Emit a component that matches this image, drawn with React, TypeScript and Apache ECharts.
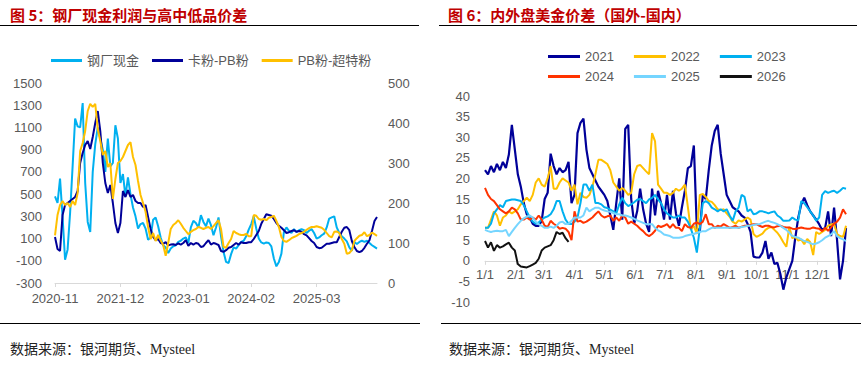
import React, { useEffect, useRef } from "react";
import * as echarts from "echarts";

// ---------- Left chart (图5) : half-month points from 2020-11 to 2026-03 ----------
const leftStart = { year: 2020, month: 11 };
const leftPointCount = 129;
const leftTickEvery = 26; // every 13 months

// 钢厂现金 (left axis)
const profit = [
  480, 420, 640, 300, -90, 0, 330, 750, 1180, 1110,
  1100, 1320, 600, 250, 160, 700, 950, 1100, 1000, 900,
  700, 1000, 750, 780, 1120, 1000, 600, 680, 480, 650,
  500, 380, 300, 190, 230, 240, 190, 90, 110, 270,
  290, 210, 110, 40, 20, -30, 10, 30, 40, 70,
  80, 100, 110, 60, 200, 260, 240, 200, 310, 250,
  210, 280, 220, 130, 200, 290, 120, -20, -110, -120,
  -40, 20, 10, 40, 70, 80, 120, 180, 230, 300,
  190, 100, 65, 55, 65, 60, 30, -80, -150, -110,
  -36, 160, 200, 170, 150, 185, 160, 175, 185, 175,
  150, 170, 185, 150, 100, 110, 130, 145, 200, 280,
  290, 300, 200, 150, 120, 100, 75, 20, -10, 70,
  50, 70, 80, 70, 80, 60, 40, 25, 10,
];

// 卡粉-PB粉 (right axis)
const kaPb = [
  115, 85, 80, 170, 195, 200, 205, 210, 215, 230,
  300, 325, 345, 355, 335, 365, 400, 430, 380, 300,
  250, 225, 245, 200, 150, 125, 150, 230, 215, 232,
  215, 220, 205, 200, 200, 190, 195, 165, 135, 115,
  107, 110, 100, 98, 102, 94, 96, 97, 95, 99,
  96, 100, 107, 93, 100, 96, 100, 98, 90, 92,
  100, 107, 96, 100, 98, 95, 80, 78, 82, 88,
  90, 95, 100, 96, 102, 100, 100, 102, 102, 110,
  120, 130, 148, 160, 172, 170, 168, 160, 150, 143,
  138, 132, 125, 127, 130, 132, 128, 130, 128, 122,
  119, 112, 105, 100, 90, 87, 88, 93, 98, 98,
  100, 102, 102, 115, 128, 138, 140, 132, 105, 90,
  80, 77, 80, 88, 98, 107, 130, 155, 165,
];

// PB粉-超特粉 (right axis)
const pbSuper = [
  119, 170, 195, 205, 195, 200, 190, 205, 195, 225,
  330, 350, 380, 430, 448, 440, 448, 385, 355, 320,
  330, 290, 300, 210, 260, 300, 305, 315, 330, 345,
  352, 315, 295, 255, 220, 200, 178, 140, 110, 125,
  105, 120, 107, 95, 68, 100, 135, 145, 150, 157,
  148, 138, 130, 122, 128, 132, 135, 140, 138, 135,
  138, 140, 135, 142, 150, 157, 135, 90, 88, 100,
  110, 130, 125, 122, 120, 120, 123, 117, 117, 170,
  168, 160, 158, 160, 157, 163, 165, 168, 155, 140,
  115, 105, 103, 107, 112, 115, 118, 122, 125, 128,
  133, 137, 140, 140, 142, 140, 138, 133, 125, 117,
  114, 128, 129, 125, 110, 98, 73, 75, 82, 105,
  112, 118, 120, 127, 117, 120, 126, 122, 118,
];

const leftLeftTicks = [-300, -100, 100, 300, 500, 700, 900, 1100, 1300, 1500];

// ---------- Right chart (图6) : every 3rd day of the year ----------
const monthLengths = [31, 28, 31, 30, 31, 30, 31, 31, 30, 31, 30, 31];
const dayStep = 3;

const y2021 = [
  22, 21, 23, 21.5, 23.5, 22, 24, 22.5, 25.8, 33,
  27, 21, 18, 14, 11.3, 10.5, 9, 8.5, 8.5, 9.7,
  15, 16.5, 26, 23, 21, 22.5, 21.5, 22, 24, 14,
  16, 31, 33.5, 34.5, 27, 22.5, 21, 19.5, 18, 17,
  16, 14.5, 11, 7.5, 14, 20, 10, 32, 33, 15,
  9, 12, 17.5, 12.5, 9, 7, 17.5, 11, 17, 14,
  10, 16, 10, 17, 11.5, 8.5, 13, 17, 22.5, 23,
  28, 8, 7, 16, 15, 22, 28, 31.5, 33, 26,
  21, 16, 14.5, 13, 12.5, 12, 11, 10.5, 9, 7,
  1, 0.8, 0.8, 2, 4.8, 0.5, 2, -0.8, -0.5, -3.2,
  -7, -4, -2, 0, 5.6, 10.5, 13.7, 15.3, 13.5, 12,
  11, 10, 8.9, 7.5, 8, 12, 6, 12.9, 5, -4.5,
  0, 8,
];

const y2022 = [
  8, 8, 10, 12, 11, 8.5, 10.5, 11, 12, 11.5,
  12, 12.5, 13.7, 14.5, 15.3, 14.5, 16, 19, 20, 18.5,
  18, 20, 23, 17.5, 17.5, 19, 20, 19.5, 19, 17,
  18.5, 13.7, 16.5, 15.5, 15.3, 16, 18, 21, 24.5, 24.5,
  24, 23.5, 22, 19, 18, 17, 17.7, 17, 16, 16.5,
  21, 23, 23.3, 22.5, 21.7, 21, 31, 29, 18.5, 17.5,
  16.5, 16.5, 16, 16.5, 17.5, 17, 17.5, 18.5, 13, 7.5,
  8.5, 6.5, 16, 16.2, 15.5, 14.5, 14.3, 13.5, 12.5, 12.3,
  12.5, 11.5, 10.7, 9.5, 9, 9.8, 9.5, 10, 10.5, 10,
  6.5, 5.8, 6.2, 6.6, 7.5, 8, 8.2, 7.5, 6.8, 5.8,
  4.5, 3.4, 8.2, 5.5, 5.8, 4.9, 5.2, 4, 5.3, 4.5,
  1.4, 7, 6.5, 7, 7.5, 8.5, 8.8, 9, 6.5, 6,
  5.8, 8.5,
];

const y2023 = [
  8, 8, 9, 11.5, 12.5, 13.5, 13, 14.5, 14.7, 14.9,
  14.9, 14.7, 14.5, 13.5, 12, 10.5, 9.5, 9, 9.3, 10,
  10.5, 10.8, 11.3, 12.5, 14.5, 14.5, 12, 10, 9, 8.9,
  9.5, 10.5, 14, 18.5, 18.5, 17, 18.5, 14, 14, 13.7,
  13, 12.8, 12.4, 12, 11.5, 13.7, 15.3, 14, 13.3, 13.7,
  14.2, 14.8, 15, 14.5, 14, 14.9, 15.3, 16, 14.9, 14,
  12.5, 11.5, 11, 10.5, 10.5, 11, 10.5, 10.5, 9.5, 7.8,
  5.6, 2, 8, 14, 14.5, 14, 12.9, 12.5, 12, 12.5,
  12, 12.5, 11, 9.7, 12, 12.9, 16, 15.5, 12, 12.5,
  11.3, 11.5, 12, 12, 11.8, 11.5, 11.8, 12, 11, 10.5,
  9.7, 9.7, 9.8, 10.5, 10, 9.8, 14.5, 14, 13, 12,
  11, 9.7, 10.5, 16, 16.9, 16.5, 16.8, 17, 16.5, 17,
  17.7, 17.5,
];

const y2024 = [
  17.7, 16, 15, 14.5, 13.5, 12.5, 12, 11.5, 12, 12.9,
  12.5, 11.5, 10, 10, 10.5, 10, 10.5, 10, 11, 10,
  8.5, 8.2, 9.7, 9, 8.5, 7.8, 8, 7.8, 7, 5,
  12, 9.5, 9.7, 9.2, 9.5, 10, 10.5, 11.3, 12, 11,
  10.5, 10.8, 11, 9.7, 10.5, 9.7, 11, 10.5, 9, 9.5,
  9, 8.5, 7.8, 7.2, 6.4, 6, 6.5, 7.3, 8.5, 8.2,
  8.5, 8.9, 8, 8.9, 8, 8, 7.2, 8.9, 8.2, 8,
  9, 9.3, 8.9, 9.5, 11.3, 8.9, 8.9, 8, 8.5, 8.3,
  8.9, 8.5, 8, 8.2, 8.5, 8, 8.3, 8.5, 8.5, 8.7,
  8.9, 8.9, 8.5, 8.2, 8.5, 8.5, 8.2, 8.1, 8.4, 8.5,
  8.2, 8.1, 8.1, 7.8, 7.7, 7.9, 8.1, 7.9, 7.8, 7.8,
  8.1, 7.9, 7.8, 7.2, 8, 7.3, 8.1, 9, 9.5, 10.5,
  12.5, 11.3,
];

const y2025 = [
  7.5, 7.2, 7, 7.2, 7.3, 7.2, 7.2, 7.5, 6, 7,
  8, 8.9, 9.7, 10.3, 10.7, 11, 10.5, 9.5, 8.9, 8.5,
  8, 8, 8.3, 8, 8.5, 9.3, 9.5, 8.9, 9, 9.7,
  10.5, 10.5, 10.5, 11, 12.9, 12, 12.5, 12.9, 12.9, 12.5,
  12.2, 12, 11.9, 11.6, 11.3, 11.3, 11, 11, 10.8, 10.5,
  10.2, 9.8, 9.5, 9.2, 8.9, 8.9, 8.9, 8, 7.4, 7,
  6.4, 6.2, 6, 5.6, 5.6, 5.6, 5.7, 6, 6.2, 6.4,
  6.5, 6.8, 7, 7.2, 7.2, 7.6, 8, 8, 8, 8,
  8, 8, 8, 8, 8, 8, 8.2, 8.3, 8.5, 8.5,
  8.7, 8.9, 8.9, 9.2, 9.5, 9.7, 9.4, 9.2, 8.9, 8.5,
  8, 7.5, 6.8, 6, 5.8, 5.6, 5.2, 4.8, 4.6, 4.3,
  4, 4.2, 4.5, 5, 5.6, 6, 6.4, 7.2, 6, 5.5,
  5.2, 4.8,
];

const y2026 = [
  4.8, 3.2, 4.5, 2.4, 3.8, 3.2, 3.5, 4, 4.4, 3.2,
  2.5, -0.8, -1.4, -1.5, -1.6, -1.3, -0.9, -0.5, 0.5, 2.5,
  3.2, 3.5, 3.8, 5, 7, 6.5, 6.8, 5.5, 4.6,
];

const rightTicks = { min: -10, max: 40, interval: 5 };

// ---------- styles / layout ----------
const FONT = '"Liberation Sans", Arial, "Noto Sans CJK SC", sans-serif';
const LABEL_COLOR = "#595959";
const AXIS_COLOR = "#D9D9D9";
const C_PROFIT = "#00B0F0";
const C_KA = "#000099";
const C_PB = "#FFC000";
const yearColors: Record<string, string> = {
  "2021": "#000099",
  "2022": "#FFC000",
  "2023": "#00B0F0",
  "2024": "#FF3300",
  "2025": "#75D5FF",
  "2026": "#111111",
};
const RIGHT_GRID = { left: 485, right: 14, top: 96, bottom: 63 };
const CHART_H = 365;

function buildLeftCategories(): string[] {
  const cats: string[] = [];
  let y = leftStart.year;
  let m = leftStart.month;
  while (cats.length < leftPointCount) {
    const mm = String(m).padStart(2, "0");
    cats.push(`${y}-${mm}`);
    if (cats.length < leftPointCount) cats.push(`${y}-${mm}-16`);
    m += 1;
    if (m > 12) {
      m = 1;
      y += 1;
    }
  }
  return cats;
}

function buildDayCategories(): string[] {
  const cats: string[] = [];
  monthLengths.forEach((len, mi) => {
    for (let d = 1; d <= len; d++) cats.push(`${mi + 1}/${d}`);
  });
  return cats;
}

export default function App() {
  const ref = useRef<HTMLDivElement>(null);

  useEffect(() => {
    if (!ref.current) return;
    const chart = echarts.init(ref.current, undefined, { renderer: "svg" });
    const leftCats = buildLeftCategories();
    const dayCats = buildDayCategories();

    const yearSeries: [string, number[]][] = [
      ["2021", y2021],
      ["2022", y2022],
      ["2023", y2023],
      ["2024", y2024],
      ["2025", y2025],
      ["2026", y2026],
    ];

    // x axis of the right chart sits at value 0 of its y axis
    const rightGridH = CHART_H - RIGHT_GRID.top - RIGHT_GRID.bottom;
    const zeroOffset =
      -rightGridH * (0 - rightTicks.min) / (rightTicks.max - rightTicks.min);

    const legendCommon = {
      icon: "rect",
      itemHeight: 3,
      padding: 0,
      textStyle: { fontSize: 13, color: LABEL_COLOR, fontFamily: FONT },
    };

    const option: any = {
      animation: false,
      backgroundColor: "#ffffff",
      textStyle: { fontFamily: FONT },
      graphic: [
        {
          type: "text",
          x: 10,
          y: 14,
          style: {
            text: "图 5：钢厂现金利润与高中低品价差",
            fill: "#C00000",
            font: 'bold 15px "Noto Sans CJK SC", sans-serif',
            verticalAlign: "middle",
          },
        },
        {
          type: "text",
          x: 448,
          y: 14,
          style: {
            text: "图 6：内外盘美金价差（国外-国内）",
            fill: "#C00000",
            font: 'bold 15px "Noto Sans CJK SC", sans-serif',
            verticalAlign: "middle",
          },
        },
        { type: "line", shape: { x1: 0, y1: 25.5, x2: 419, y2: 25.5 }, style: { stroke: "#000", lineWidth: 1 } },
        { type: "line", shape: { x1: 439, y1: 25.5, x2: 857, y2: 25.5 }, style: { stroke: "#000", lineWidth: 1 } },
        { type: "line", shape: { x1: 0, y1: 323.5, x2: 420, y2: 323.5 }, style: { stroke: "#000", lineWidth: 1 } },
        { type: "line", shape: { x1: 441, y1: 323.5, x2: 861, y2: 323.5 }, style: { stroke: "#000", lineWidth: 1 } },
        {
          type: "text",
          x: 10,
          y: 349,
          style: {
            text: "数据来源：银河期货、Mysteel",
            fill: "#222",
            font: '14px "Liberation Serif", "Noto Sans CJK SC", serif',
            verticalAlign: "middle",
          },
        },
        {
          type: "text",
          x: 449,
          y: 349,
          style: {
            text: "数据来源：银河期货、Mysteel",
            fill: "#222",
            font: '14px "Liberation Serif", "Noto Sans CJK SC", serif',
            verticalAlign: "middle",
          },
        },
      ],
      legend: [
        {
          ...legendCommon,
          data: ["钢厂现金", "卡粉-PB粉", "PB粉-超特粉"],
          left: 51,
          top: 54,
          itemWidth: 31,
          itemGap: 13,
        },
        {
          ...legendCommon,
          data: ["2021", "2022", "2023"],
          left: 548,
          top: 50,
          itemWidth: 32,
          itemGap: 20,
        },
        {
          ...legendCommon,
          data: ["2024", "2025", "2026"],
          left: 548,
          top: 70,
          itemWidth: 32,
          itemGap: 20,
        },
      ],
      grid: [
        { left: 55, right: 484, top: 83, bottom: 82 },
        { ...RIGHT_GRID },
      ],
      xAxis: [
        {
          type: "category",
          gridIndex: 0,
          data: leftCats,
          boundaryGap: false,
          axisLine: { onZero: false, lineStyle: { color: AXIS_COLOR, width: 1 } },
          axisTick: {
            show: true,
            length: 4,
            interval: (i: number) => i % leftTickEvery === 0,
            lineStyle: { color: AXIS_COLOR },
          },
          axisLabel: {
            interval: (i: number) => i % leftTickEvery === 0,
            formatter: (v: string) => v.slice(0, 7),
            color: LABEL_COLOR,
            fontSize: 13,
            margin: 9,
          },
          splitLine: { show: false },
        },
        {
          type: "category",
          gridIndex: 1,
          data: dayCats,
          boundaryGap: false,
          position: "bottom",
          offset: zeroOffset,
          axisLine: { onZero: false, lineStyle: { color: AXIS_COLOR, width: 1 } },
          axisTick: {
            show: true,
            length: 4,
            interval: (_i: number, v: string) => v.split("/")[1] === "1",
            lineStyle: { color: AXIS_COLOR },
          },
          axisLabel: {
            interval: (_i: number, v: string) => v.split("/")[1] === "1",
            color: LABEL_COLOR,
            fontSize: 13,
            margin: 7,
          },
          splitLine: { show: false },
        },
      ],
      yAxis: [
        {
          type: "value",
          gridIndex: 0,
          min: leftLeftTicks[0],
          max: leftLeftTicks[leftLeftTicks.length - 1],
          axisLine: { show: false },
          axisTick: { show: false },
          splitLine: { show: false },
          axisLabel: {
            customValues: leftLeftTicks,
            formatter: (v: number) => String(v),
            color: LABEL_COLOR,
            fontSize: 13,
            margin: 13,
          },
        },
        {
          type: "value",
          gridIndex: 0,
          position: "right",
          min: 0,
          max: 500,
          interval: 100,
          axisLine: { show: false },
          axisTick: { show: false },
          splitLine: { show: false },
          axisLabel: { formatter: (v: number) => String(v), color: LABEL_COLOR, fontSize: 13, margin: 11 },
        },
        {
          type: "value",
          gridIndex: 1,
          min: rightTicks.min,
          max: rightTicks.max,
          interval: rightTicks.interval,
          axisLine: { show: false },
          axisTick: { show: false },
          splitLine: { show: false },
          axisLabel: { formatter: (v: number) => String(v), color: LABEL_COLOR, fontSize: 13, margin: 15 },
        },
      ],
      series: [
        {
          name: "钢厂现金",
          type: "line",
          xAxisIndex: 0,
          yAxisIndex: 0,
          data: profit,
          showSymbol: false,
          symbol: "none",
          lineStyle: { color: C_PROFIT, width: 2 },
          itemStyle: { color: C_PROFIT },
        },
        {
          name: "卡粉-PB粉",
          type: "line",
          xAxisIndex: 0,
          yAxisIndex: 1,
          data: kaPb,
          showSymbol: false,
          symbol: "none",
          lineStyle: { color: C_KA, width: 2 },
          itemStyle: { color: C_KA },
        },
        {
          name: "PB粉-超特粉",
          type: "line",
          xAxisIndex: 0,
          yAxisIndex: 1,
          data: pbSuper,
          showSymbol: false,
          symbol: "none",
          lineStyle: { color: C_PB, width: 2 },
          itemStyle: { color: C_PB },
        },
        ...yearSeries.map(([name, vals]) => ({
          name,
          type: "line",
          xAxisIndex: 1,
          yAxisIndex: 2,
          data: vals.map((v, i) => [i * dayStep, v]),
          showSymbol: false,
          symbol: "none",
          lineStyle: { color: yearColors[name], width: name === "2021" ? 2.2 : 2 },
          itemStyle: { color: yearColors[name] },
        })),
      ],
    };

    chart.setOption(option);
    return () => chart.dispose();
  }, []);

  return (
    <div
      ref={ref}
      style={{ position: "fixed", left: 0, top: 0, width: 861, height: 365, background: "#fff" }}
    />
  );
}
